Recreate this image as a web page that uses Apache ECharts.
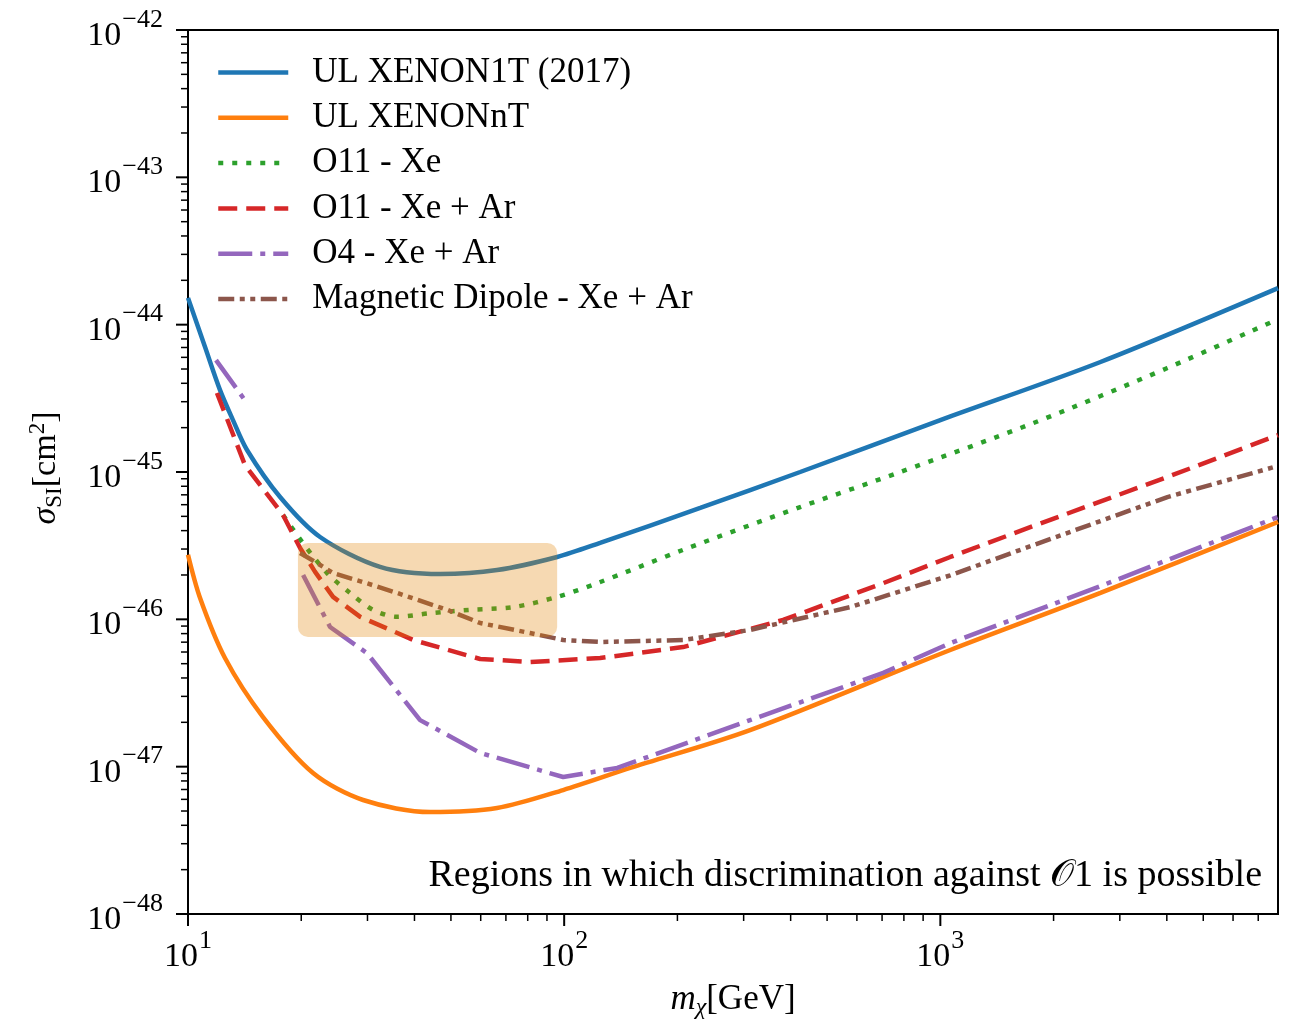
<!DOCTYPE html>
<html>
<head>
<meta charset="utf-8">
<script src="https://cdn.jsdelivr.net/npm/echarts@6/dist/echarts.min.js"></script>
<style>
  html, body { margin: 0; background: #fff; }
  #main { width: 1303px; height: 1019px; }
</style>
</head>
<body>
<div id="main"></div>
<script>
// UL XENON1T (2017)
var x1tMass  = [10, 11.1, 12.16, 13.17, 14.35, 17.57, 22.44, 32.4, 46.8, 66.3, 95.8, 124.6, 230, 424, 1000, 2665, 7900];
var x1tSigma = [1.52e-44, 7.05e-45, 3.61e-45, 2.25e-45, 1.41e-45, 6.76e-46, 3.62e-46, 2.27e-46, 2.03e-46, 2.16e-46, 2.65e-46, 3.3e-46, 5.7e-46, 1.0e-45, 2.25e-45, 5.58e-45, 1.77e-44];
// UL XENONnT
var xntMass  = [10, 10.76, 12.54, 15.83, 21.5, 29.2, 44.0, 66.3, 99.4, 149.8, 312, 1063, 2665, 7900];
var xntSigma = [2.74e-46, 1.40e-46, 5.46e-47, 2.17e-47, 9.05e-48, 5.94e-48, 4.92e-48, 5.24e-48, 6.94e-48, 9.8e-48, 1.77e-47, 6.19e-47, 1.51e-46, 4.58e-46];
// O11 - Xe
var o11XeMass  = [17.89, 20.11, 23.43, 26.97, 31.05, 35.97, 44.0, 56.2, 73.2, 95.8, 122.4, 207, 424, 783, 1768, 4015, 7900];
var o11XeSigma = [5.11e-46, 3.35e-46, 2.06e-46, 1.51e-46, 1.16e-46, 1.04e-46, 1.10e-46, 1.16e-46, 1.21e-46, 1.42e-46, 1.76e-46, 2.96e-46, 5.78e-46, 1.0e-45, 2.15e-45, 5.08e-45, 1.09e-44];
// O11 - Xe + Ar
var o11ArMass  = [11.94, 14.18, 17.89, 19.86, 21.77, 24.3, 28.7, 39.7, 59.8, 81.2, 124.6, 207, 382, 705, 1063, 1768, 4015, 7900];
var o11ArSigma = [3.44e-45, 1.11e-45, 5.11e-46, 3.05e-46, 2.10e-46, 1.42e-46, 1.04e-46, 7.24e-47, 5.38e-47, 5.13e-47, 5.46e-47, 6.48e-47, 9.9e-47, 1.76e-46, 2.65e-46, 4.30e-46, 9.25e-46, 1.78e-45];
// O4 - Xe + Ar, low-mass piece and main piece
var o4LowMass  = [11.87, 14.27];
var o4LowSigma = [5.75e-45, 2.99e-45];
var o4Mass  = [20.23, 23.86, 29.9, 41.4, 59.8, 99.4, 138.4, 312, 705, 1063, 2665, 7876];
var o4Sigma = [2.00e-46, 8.87e-47, 5.9e-47, 2.07e-47, 1.24e-47, 8.51e-48, 9.8e-48, 2.07e-47, 4.33e-47, 6.9e-47, 1.68e-46, 4.94e-46];
// Magnetic Dipole - Xe + Ar
var mdMass  = [19.86, 22.03, 24.3, 29.2, 35.97, 48.9, 59.8, 81.2, 99.4, 124.6, 207, 312, 576, 1063, 1768, 4015, 7900];
var mdSigma = [2.82e-46, 2.41e-46, 2.06e-46, 1.79e-46, 1.51e-46, 1.16e-46, 9.44e-47, 8.07e-47, 7.24e-47, 7.02e-47, 7.24e-47, 8.47e-47, 1.21e-46, 1.99e-46, 3.19e-46, 6.76e-46, 1.10e-45];

// shaded region (corners)
var boxMass  = [19.6, 95.8];
var boxSigma = [3.3e-46, 7.59e-47];

// axis ticks
var xMajorTicks = [10, 100, 1000];
var yMajorTicks = [1e-48, 1e-47, 1e-46, 1e-45, 1e-44, 1e-43, 1e-42];
var xMinorTicks = [];
[10, 100, 1000].forEach(function (d) {
  for (var k = 2; k <= 9; k++) { if (k * d < 7900) xMinorTicks.push(k * d); }
});
var yMinorTicks = [];
yMajorTicks.slice(0, 6).forEach(function (d) {
  for (var k = 2; k <= 9; k++) yMinorTicks.push(k * d);
});

// echarts rounds log ticks to 10 decimals, so the y axis runs in units of 1e-48 cm^2
var Y_UNIT = 1e-48;
var Y_EXP = -48;
function ys(v) { return v / Y_UNIT; }

var serif = 'Liberation Serif';

function zip(ms, ss) {
  return ms.map(function (m, i) { return [m, ys(ss[i])]; });
}

var tickData = [];
xMajorTicks.forEach(function (v) { tickData.push([v, ys(1e-48), 0, 12]); });
xMinorTicks.forEach(function (v) { tickData.push([v, ys(1e-48), 0, 7]); });
yMajorTicks.forEach(function (v) { tickData.push([10, ys(v), 1, 12]); });
yMinorTicks.forEach(function (v) { tickData.push([10, ys(v), 1, 7]); });

function powText(e) {
  return '{b|10}{s|' + (e < 0 ? '\u2212' + (-e) : e) + '}';
}
function xLabel(v) {
  var l = Math.log10(v), e = Math.round(l);
  return Math.abs(l - e) > 1e-6 ? '' : powText(e);
}
function yLabel(v) {
  var l = Math.log10(v), e = Math.round(l);
  return Math.abs(l - e) > 1e-6 ? '' : powText(e + Y_EXP);
}
var powRich = {
  b: { fontFamily: serif, fontSize: 34, color: '#000', lineHeight: 46, verticalAlign: 'bottom' },
  s: { fontFamily: serif, fontSize: 26, color: '#000', lineHeight: 30, verticalAlign: 'top', padding: [0, 0, 0, 1] }
};

function lineSeries(name, ms, ss, color, dash, smooth) {
  return {
    name: name,
    type: 'line',
    data: zip(ms, ss),
    showSymbol: false,
    symbol: 'none',
    smooth: smooth ? 0.3 : false,
    lineStyle: { color: color, width: 4.5, type: dash, cap: 'butt' },
    itemStyle: { color: color },
    z: 2
  };
}

var chart = echarts.init(document.getElementById('main'));
chart.setOption({
  animation: false,
  backgroundColor: '#fff',
  grid: {
    left: 188, top: 30, right: 25, bottom: 105,
    show: true, borderColor: '#000', borderWidth: 2
  },
  legend: {
    data: ['UL XENON1T (2017)', 'UL XENONnT', 'O11 - Xe', 'O11 - Xe + Ar', 'O4 - Xe + Ar', 'Magnetic Dipole - Xe + Ar'],
    orient: 'vertical',
    left: 216,
    top: 55,
    padding: 0,
    itemWidth: 70,
    itemHeight: 14,
    itemGap: 10.3,
    selectedMode: false,
    itemStyle: { opacity: 0 },
    lineStyle: { width: 4.5 },
    textStyle: { fontFamily: serif, fontSize: 35, color: '#000', lineHeight: 34, padding: [0, 0, 0, 19] }
  },
  xAxis: {
    type: 'log',
    logBase: 10,
    min: 10,
    max: 7900,
    axisLine: { lineStyle: { color: '#000', width: 2 } },
    axisTick: { show: false },
    splitLine: { show: false },
    axisLabel: { formatter: xLabel, rich: powRich, margin: 14 }
  },
  yAxis: {
    type: 'log',
    logBase: 10,
    min: ys(1e-48),
    max: ys(1e-42),
    axisLine: { lineStyle: { color: '#000', width: 2 } },
    axisTick: { show: false },
    splitLine: { show: false },
    axisLabel: { formatter: yLabel, rich: powRich, margin: 25 }
  },
  graphic: [
    {
      type: 'text', x: 46, y: 468, rotation: Math.PI / 2,
      style: {
        text: '{i|\u03c3}{sub|SI}{n|[cm}{sup|2}{n|]}',
        align: 'center', verticalAlign: 'middle',
        rich: {
          i: { fontFamily: serif, fontStyle: 'italic', fontSize: 34, lineHeight: 40, fill: '#000' },
          n: { fontFamily: serif, fontSize: 34, lineHeight: 40, fill: '#000' },
          sub: { fontFamily: serif, fontSize: 23, lineHeight: 24, verticalAlign: 'bottom', fill: '#000' },
          sup: { fontFamily: serif, fontSize: 23, lineHeight: 26, verticalAlign: 'top', fill: '#000' }
        }
      }
    },
    {
      type: 'text', x: 733, y: 1000,
      style: {
        text: '{i|m}{sub|\u03c7}{n|[GeV]}',
        align: 'center', verticalAlign: 'middle',
        rich: {
          i: { fontFamily: serif, fontStyle: 'italic', fontSize: 35, lineHeight: 40, fill: '#000' },
          n: { fontFamily: serif, fontSize: 35, lineHeight: 40, fill: '#000' },
          sub: { fontFamily: serif, fontStyle: 'italic', fontSize: 24, lineHeight: 24, verticalAlign: 'bottom', fill: '#000' }
        }
      }
    },
    {
      type: 'text', x: 1262, y: 876,
      style: {
        text: 'Regions in which discrimination against \ud835\udcaa1 is possible',
        align: 'right', verticalAlign: 'middle',
        font: '38px "Liberation Serif"', fill: '#000'
      }
    }
  ],
  series: [
    lineSeries('UL XENON1T (2017)', x1tMass, x1tSigma, '#1f77b4', 'solid', true),
    lineSeries('UL XENONnT', xntMass, xntSigma, '#ff7f0e', 'solid', true),
    lineSeries('O11 - Xe', o11XeMass, o11XeSigma, '#2ca02c', [5, 9], true),
    lineSeries('O11 - Xe + Ar', o11ArMass, o11ArSigma, '#d62728', [19, 9], false),
    lineSeries('O4 - Xe + Ar', o4Mass, o4Sigma, '#9467bd', [34, 8, 5, 8], false),
    lineSeries('O4 - Xe + Ar', o4LowMass, o4LowSigma, '#9467bd', [34, 8, 5, 8], false),
    lineSeries('Magnetic Dipole - Xe + Ar', mdMass, mdSigma, '#8c564b', [16, 5.5, 5, 5.5, 5, 5.5], false),
    {
      type: 'custom',
      silent: true,
      z: 5,
      data: [[boxMass[0], ys(boxSigma[0]), boxMass[1], ys(boxSigma[1])]],
      renderItem: function (params, api) {
        var p1 = api.coord([api.value(0), api.value(1)]);
        var p2 = api.coord([api.value(2), api.value(3)]);
        return {
          type: 'rect',
          shape: { x: p1[0], y: p1[1], width: p2[0] - p1[0], height: p2[1] - p1[1], r: 10 },
          style: { fill: 'rgba(225,130,0,0.3)' }
        };
      }
    },
    {
      type: 'custom',
      silent: true,
      clip: false,
      z: 6,
      data: tickData,
      renderItem: function (params, api) {
        var p = api.coord([api.value(0), api.value(1)]);
        var len = api.value(3);
        var w = len > 10 ? 2 : 1.5;
        if (api.value(2) === 0) {
          return { type: 'line', shape: { x1: p[0], y1: p[1], x2: p[0], y2: p[1] + len }, style: { stroke: '#000', lineWidth: w } };
        }
        return { type: 'line', shape: { x1: p[0] - len, y1: p[1], x2: p[0], y2: p[1] }, style: { stroke: '#000', lineWidth: w } };
      }
    }
  ]
});
</script>
</body>
</html>
